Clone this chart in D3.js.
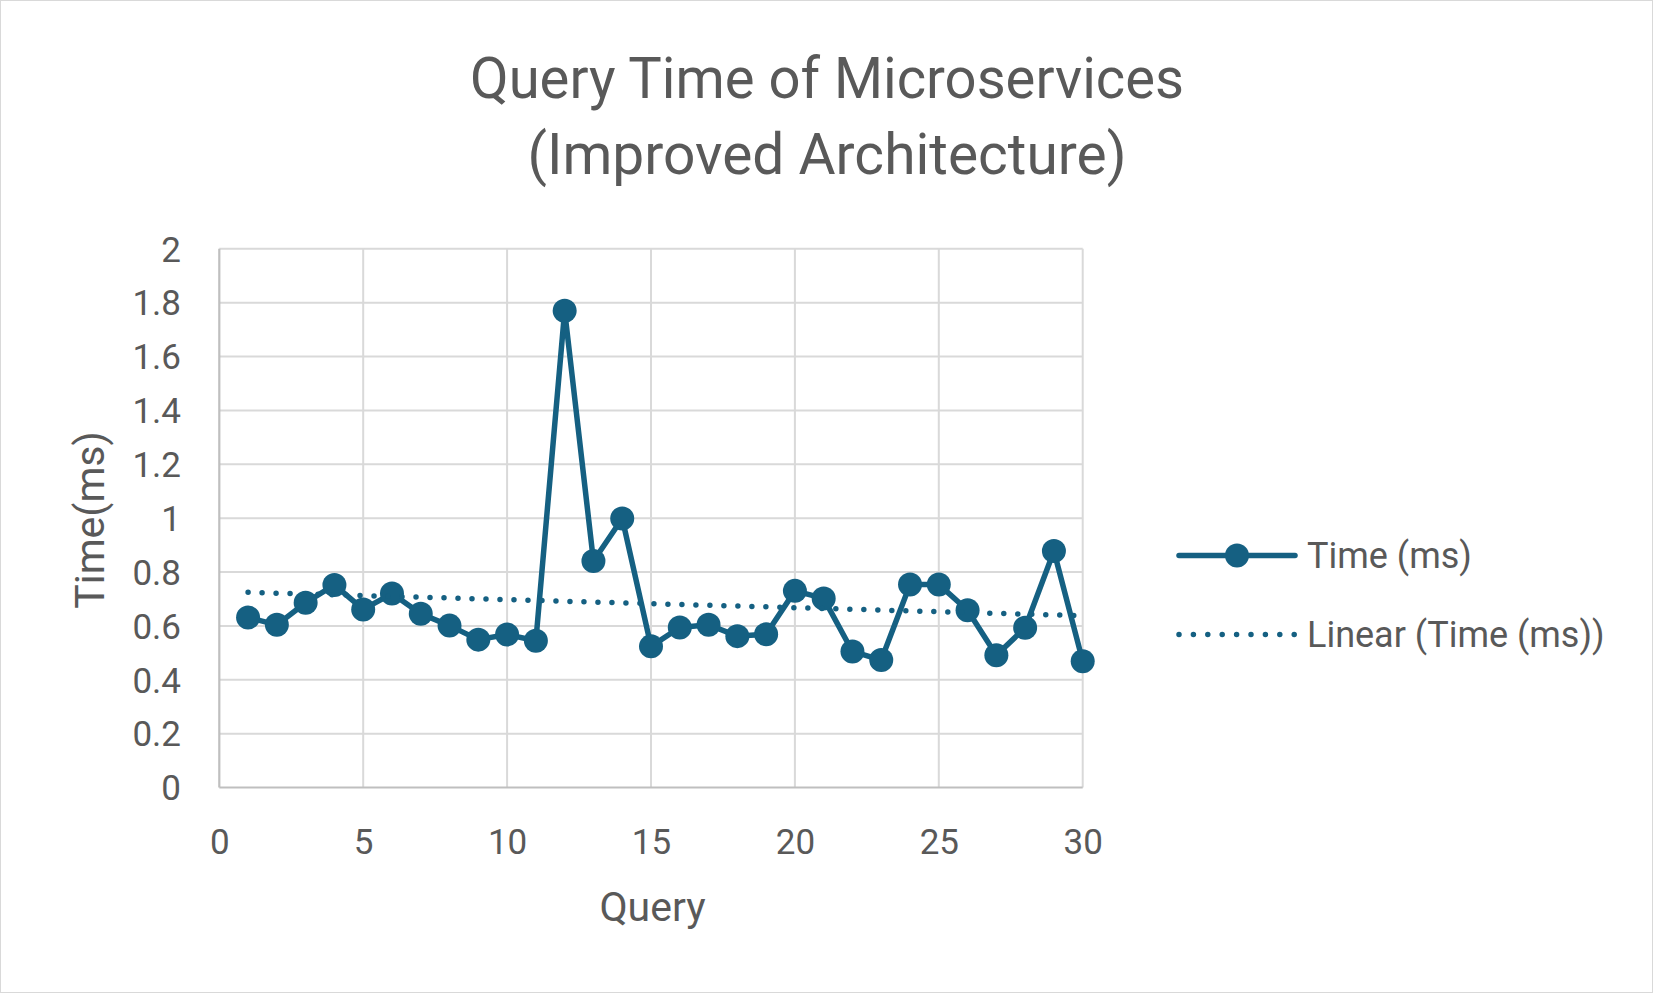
<!DOCTYPE html>
<html>
<head>
<meta charset="utf-8">
<script src="https://cdn.jsdelivr.net/npm/d3@7/dist/d3.min.js"></script>
<style>
  html, body { margin: 0; padding: 0; background: #fff; }
  svg { display: block; }
  text { font-family: Roboto, "Open Sans", sans-serif; fill: #595959; }
</style>
</head>
<body>
<svg id="chart" width="1653" height="993"></svg>
<script>
// ---- Data ----
const queries = [1,2,3,4,5,6,7,8,9,10,11,12,13,14,15,16,17,18,19,20,21,22,23,24,25,26,27,28,29,30];
const timeMs = [0.631,0.604,0.686,0.752,0.661,0.720,0.645,0.601,0.549,0.568,0.545,1.770,0.841,0.999,0.524,
                0.594,0.604,0.562,0.569,0.730,0.702,0.505,0.473,0.754,0.754,0.658,0.491,0.593,0.878,0.469];
const xTicks = [0,5,10,15,20,25,30];
const yTicks = [0,0.2,0.4,0.6,0.8,1,1.2,1.4,1.6,1.8,2];
const titleLines = ["Query Time of Microservices", "(Improved Architecture)"];
const seriesName = "Time (ms)";
const trendName = "Linear (Time (ms))";
const xTitle = "Query";
const yTitle = "Time(ms)";

// ---- Layout ----
const W = 1653, H = 993;
const plot = { left: 219.3, right: 1082.7, top: 248.8, bottom: 787.5 };
const color = "#156082";
const gridColor = "#D9D9D9";
const axisColor = "#BFBFBF";

const svg = d3.select("#chart");

svg.append("rect").attr("x", 0.5).attr("y", 0.5).attr("width", W - 1).attr("height", H - 1)
  .attr("fill", "#fff").attr("stroke", "#D9D9D9").attr("stroke-width", 1);

const x = d3.scaleLinear().domain([0, 30]).range([plot.left, plot.right]);
const y = d3.scaleLinear().domain([0, 2]).range([plot.bottom, plot.top]);

// Gridlines
const g = svg.append("g");
g.selectAll("line.hg").data(yTicks.filter(d => d > 0)).join("line")
  .attr("x1", plot.left).attr("x2", plot.right)
  .attr("y1", d => y(d)).attr("y2", d => y(d))
  .attr("stroke", gridColor).attr("stroke-width", 2);
g.selectAll("line.vg").data(xTicks.filter(d => d > 0)).join("line")
  .attr("y1", plot.top).attr("y2", plot.bottom)
  .attr("x1", d => x(d)).attr("x2", d => x(d))
  .attr("stroke", gridColor).attr("stroke-width", 2);

// Axes lines
svg.append("line").attr("x1", plot.left).attr("x2", plot.right).attr("y1", plot.bottom).attr("y2", plot.bottom)
  .attr("stroke", axisColor).attr("stroke-width", 2.2);
svg.append("line").attr("x1", plot.left).attr("x2", plot.left).attr("y1", plot.top).attr("y2", plot.bottom)
  .attr("stroke", axisColor).attr("stroke-width", 2.2);

// Axis tick labels via d3 axes
const yAxis = d3.axisLeft(y).tickValues(yTicks).tickSize(0).tickPadding(0).tickFormat(d => d3.format("~g")(d));
const yg = svg.append("g").attr("transform", `translate(${181},0)`).call(yAxis);
yg.select(".domain").remove();
yg.selectAll("text").attr("font-size", 35).attr("fill", "#595959")
  .attr("font-family", "Roboto, sans-serif").attr("dy", "0.35em");

const xAxis = d3.axisBottom(x).tickValues(xTicks).tickSize(0).tickPadding(0);
const xg = svg.append("g").attr("transform", `translate(0,${854})`).call(xAxis);
xg.select(".domain").remove();
xg.selectAll("text").attr("font-size", 35).attr("fill", "#595959")
  .attr("font-family", "Roboto, sans-serif").attr("dy", 0);

// Axis titles
svg.append("text").attr("x", 652.5).attr("y", 921).attr("text-anchor", "middle")
  .attr("font-size", 41).text(xTitle);
svg.append("text").attr("transform", `translate(104,520) rotate(-90)`).attr("text-anchor", "middle")
  .attr("font-size", 41).text(yTitle);

// Title
svg.append("text").attr("x", 827).attr("y", 98).attr("text-anchor", "middle")
  .attr("font-size", 58).attr("textLength", 714).attr("lengthAdjust", "spacingAndGlyphs").text(titleLines[0]);
svg.append("text").attr("x", 827).attr("y", 174).attr("text-anchor", "middle")
  .attr("font-size", 58).attr("textLength", 599).attr("lengthAdjust", "spacingAndGlyphs").text(titleLines[1]);

// Series line
const data = queries.map((q, i) => ({ q, v: timeMs[i] }));
const line = d3.line().x(d => x(d.q)).y(d => y(d.v));
svg.append("path").datum(data).attr("d", line).attr("fill", "none")
  .attr("stroke", color).attr("stroke-width", 5.5).attr("stroke-linejoin", "round");
svg.append("g").selectAll("circle").data(data).join("circle")
  .attr("cx", d => x(d.q)).attr("cy", d => y(d.v)).attr("r", 12).attr("fill", color);

// Linear trend (least squares)
const n = data.length;
const mx = d3.mean(data, d => d.q), my = d3.mean(data, d => d.v);
const slope = d3.sum(data, d => (d.q - mx) * (d.v - my)) / d3.sum(data, d => (d.q - mx) ** 2);
const icpt = my - slope * mx;
const tr = [queries[0], queries[n - 1]].map(q => ({ q, v: icpt + slope * q }));
svg.append("path").datum(tr).attr("d", line).attr("fill", "none")
  .attr("stroke", color).attr("stroke-width", 5.5).attr("stroke-linecap", "round")
  .attr("stroke-dasharray", "0 14");

// Legend
const lg = svg.append("g");
lg.append("line").attr("x1", 1179).attr("x2", 1295).attr("y1", 555.5).attr("y2", 555.5)
  .attr("stroke", color).attr("stroke-width", 5.5).attr("stroke-linecap", "round");
lg.append("circle").attr("cx", 1237).attr("cy", 555.5).attr("r", 12).attr("fill", color);
lg.append("text").attr("x", 1307).attr("y", 568).attr("font-size", 36).text(seriesName);
lg.append("line").attr("x1", 1179).attr("x2", 1295).attr("y1", 634.5).attr("y2", 634.5)
  .attr("stroke", color).attr("stroke-width", 5.5).attr("stroke-linecap", "round")
  .attr("stroke-dasharray", "0 14.4");
lg.append("text").attr("x", 1307).attr("y", 647).attr("font-size", 36).text(trendName);
</script>
</body>
</html>
